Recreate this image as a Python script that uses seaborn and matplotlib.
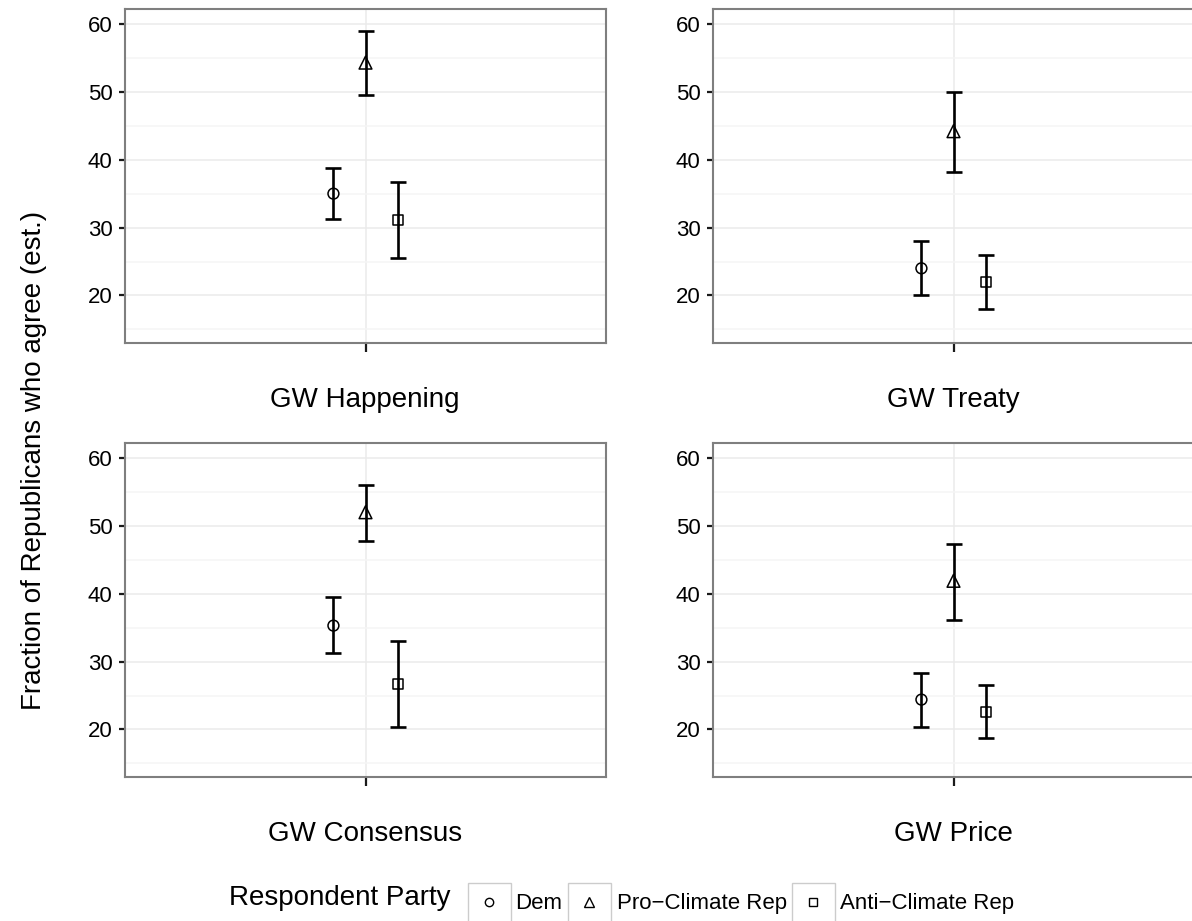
import matplotlib
matplotlib.use("Agg")
import matplotlib.pyplot as plt
from matplotlib.patches import Rectangle
from matplotlib.lines import Line2D
import seaborn as sns
import pandas as pd
import numpy as np

# ---------------- data ----------------
topics = ["GW Happening", "GW Treaty", "GW Consensus", "GW Price"]
parties = ["Dem", "Pro\u2212Climate Rep", "Anti\u2212Climate Rep"]

est_dem = [35.0, 24.0, 35.3, 24.4]
lo_dem = [31.2, 20.0, 31.3, 20.4]
hi_dem = [38.8, 28.0, 39.5, 28.3]

est_pro = [54.3, 44.2, 52.0, 41.9]
lo_pro = [49.5, 38.2, 47.8, 36.1]
hi_pro = [58.9, 49.9, 56.0, 47.3]

est_anti = [31.1, 22.0, 26.7, 22.6]
lo_anti = [25.5, 18.0, 20.3, 18.8]
hi_anti = [36.7, 26.0, 33.1, 26.6]

y_label = "Fraction of Republicans who agree (est.)"
legend_title = "Respondent Party"
y_ticks = [20, 30, 40, 50, 60]

rows = []
for party, est, lo, hi in zip(parties,
                              [est_dem, est_pro, est_anti],
                              [lo_dem, lo_pro, lo_anti],
                              [hi_dem, hi_pro, hi_anti]):
    for t, e, l, h in zip(topics, est, lo, hi):
        rows.append(dict(topic=t, party=party, est=e, lo=l, hi=h))
df = pd.DataFrame(rows)

# ---------------- style ----------------
sns.set_theme(style="white")
plt.rcParams['font.family'] = ['Liberation Sans', 'DejaVu Sans']

W, H = 1192, 921
fig = plt.figure(figsize=(W / 100, H / 100), dpi=100)

markers = {parties[0]: "o", parties[1]: "^", parties[2]: "s"}
msize = {parties[0]: 7.8, parties[1]: 9.2, parties[2]: 7.2}
dodge = {parties[0]: -0.08, parties[1]: 0.0, parties[2]: 0.08}

# panel boxes in pixels: (left, top, width, height)
panel_px = {
    "GW Happening": (125, 9, 481, 334),
    "GW Treaty": (713, 9, 481, 334),
    "GW Consensus": (125, 443, 481, 334),
    "GW Price": (713, 443, 481, 334),
}

def fx(px):
    return px / W

def fy(py):
    return 1 - py / H

for topic in topics:
    l, t, w, h = panel_px[topic]
    ax = fig.add_axes([fx(l), fy(t + h), w / W, h / H])
    sub = df[df.topic == topic].copy()
    sub["x"] = sub["party"].map(dodge)
    # error bars
    for _, r in sub.iterrows():
        ax.errorbar([r.x], [r.est], yerr=[[r.est - r.lo], [r.hi - r.est]],
                    fmt="none", ecolor="black", elinewidth=1.9,
                    capsize=5.8, capthick=1.9, zorder=3)
    # points
    for party in parties:
        d = sub[sub.party == party]
        sns.scatterplot(data=d, x="x", y="est", marker=markers[party],
                        s=msize[party] ** 2, facecolors="none",
                        edgecolor="black", color="black", linewidth=1.1,
                        ax=ax, zorder=4, legend=False)
    ax.set_xlim(-0.6, 0.6)
    ax.set_ylim(13.0, 62.2)
    ax.set_yticks(y_ticks)
    ax.set_yticks([15, 25, 35, 45, 55], minor=True)
    ax.set_xticks([0])
    ax.set_xticklabels([""])
    ax.set_xlabel("")
    ax.set_ylabel("")
    ax.grid(True, which="major", color="#ebebeb", linewidth=1.1)
    ax.grid(True, which="minor", axis="y", color="#f5f5f5", linewidth=1.1)
    ax.set_axisbelow(True)
    for sp in ax.spines.values():
        sp.set_visible(True)
        sp.set_color("#7f7f7f")
        sp.set_linewidth(1.5)
    ax.tick_params(axis="y", which="major", length=4.5, width=1.6,
                   color="#1a1a1a", labelsize=16, pad=4.5, labelcolor="black",
                   left=True)
    ax.tick_params(axis="y", which="minor", length=0)
    ax.tick_params(axis="x", which="major", length=6.5, width=1.6,
                   color="#1a1a1a", bottom=True)
    ax.set_facecolor("white")
    # facet label below the panel
    fig.text(fx(l + w / 2 - 0.5), fy(t + h + 64), topic, ha="center",
             va="baseline", fontsize=20, color="black")

# y axis title
fig.text(fx(34), 0.5, y_label, rotation=90, ha="center", va="center",
         fontsize=20, color="black")

# ---------------- legend ----------------
fig.text(fx(229), fy(905), legend_title, ha="left", va="baseline",
         fontsize=20, color="black")
key_left = [468, 568, 792]
label_left = [515, 617, 840]
for party, kl, ll in zip(parties, key_left, label_left):
    fig.add_artist(Rectangle((fx(kl), fy(926)), 43 / W, 43 / H,
                             transform=fig.transFigure, facecolor="white",
                             edgecolor="#cccccc", linewidth=1.0))
    sz = {"o": 6.0, "^": 7.5, "s": 5.8}[markers[party]]
    fig.add_artist(Line2D([fx(kl + 21)], [fy(902)], marker=markers[party],
                          markersize=sz, markerfacecolor="none",
                          markeredgecolor="black", markeredgewidth=1.0,
                          linestyle="none", transform=fig.transFigure))
    fig.text(fx(ll), fy(909), party, ha="left", va="baseline",
             fontsize=16, color="black")

fig.savefig("out.png", dpi=100, facecolor="white")
